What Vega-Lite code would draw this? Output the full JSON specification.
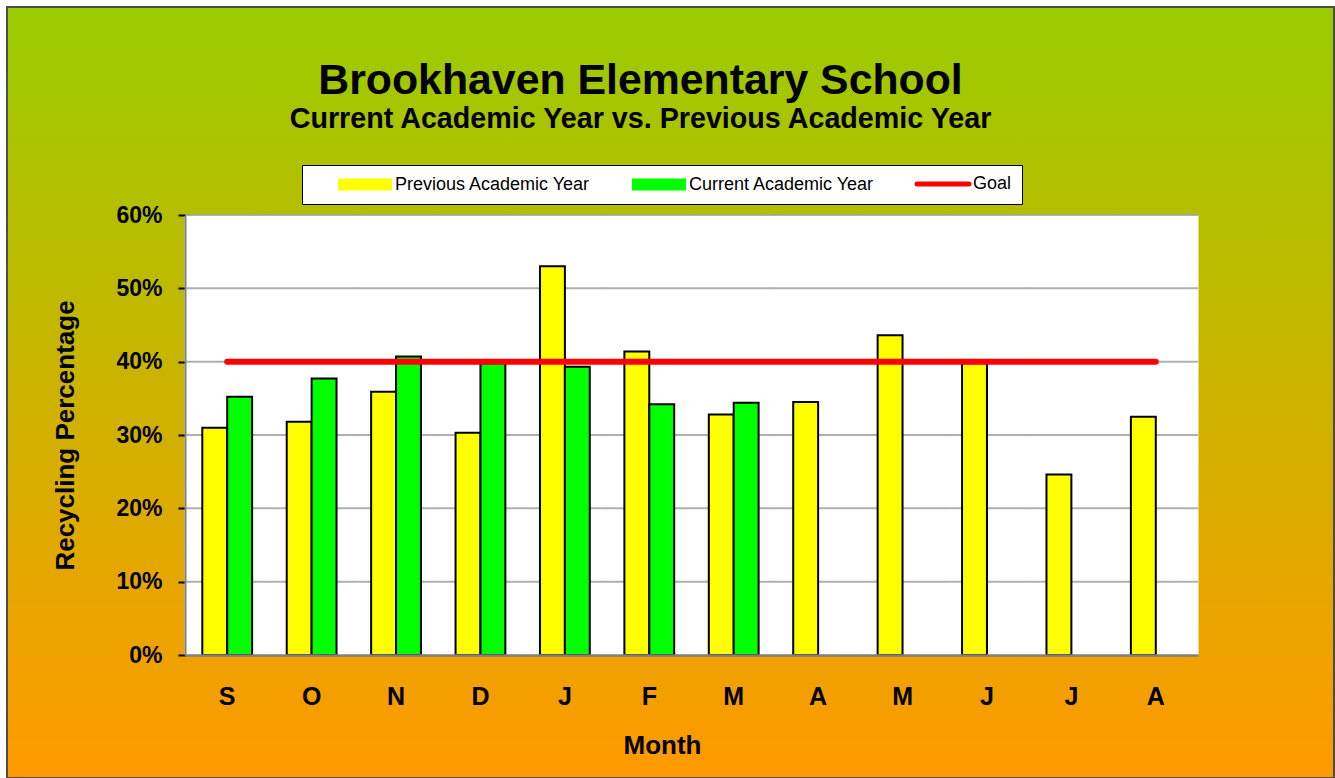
{
  "$schema": "https://vega.github.io/schema/vega-lite/v6.json",
  "width": 1327,
  "height": 771,
  "autosize": "none",
  "padding": {"left": 7, "top": 7, "right": 1, "bottom": 0},
  "background": "white",
  "config": {
    "font": "Liberation Sans",
    "view": {
      "fill": {"gradient": "linear", "x1": 0, "y1": 0, "x2": 0, "y2": 1,
        "stops": [{"offset": 0, "color": "#99CC00"}, {"offset": 1, "color": "#FF9900"}]},
      "stroke": "#4d4d4d",
      "strokeWidth": 2
    },
    "axis": {"labelFont": "Liberation Sans", "titleFont": "Liberation Sans", "labelColor": "black", "titleColor": "black"},
    "legend": {
      "orient": "none",
      "legendX": 295,
      "legendY": 158,
      "direction": "horizontal",
      "fillColor": "white",
      "strokeColor": "black",
      "padding": 10,
      "symbolSize": 400,
      "symbolOffset": 28,
      "labelOffset": 37,
      "columnPadding": 15,
      "labelLimit": 400,
      "labelFont": "Liberation Sans",
      "labelFontSize": 18,
      "labelColor": "black"
    }
  },
  "title": {
    "text": "Brookhaven Elementary School",
    "subtitle": "Current Academic Year vs. Previous Academic Year",
    "anchor": "middle",
    "frame": "group",
    "orient": "top",
    "offset": -127,
    "dx": -30,
    "font": "Liberation Sans",
    "fontSize": 42.8,
    "fontWeight": "bold",
    "color": "black",
    "subtitleFont": "Liberation Sans",
    "subtitleFontSize": 28.7,
    "subtitleFontWeight": "bold",
    "subtitleColor": "black",
    "subtitlePadding": 3
  },
  "data": {
    "values": [
      {"month": "Sep", "series": "Previous Academic Year", "value": 0.310},
      {"month": "Oct", "series": "Previous Academic Year", "value": 0.318},
      {"month": "Nov", "series": "Previous Academic Year", "value": 0.359},
      {"month": "Dec", "series": "Previous Academic Year", "value": 0.303},
      {"month": "Jan", "series": "Previous Academic Year", "value": 0.530},
      {"month": "Feb", "series": "Previous Academic Year", "value": 0.414},
      {"month": "Mar", "series": "Previous Academic Year", "value": 0.328},
      {"month": "Apr", "series": "Previous Academic Year", "value": 0.345},
      {"month": "May", "series": "Previous Academic Year", "value": 0.436},
      {"month": "Jun", "series": "Previous Academic Year", "value": 0.398},
      {"month": "Jul", "series": "Previous Academic Year", "value": 0.246},
      {"month": "Aug", "series": "Previous Academic Year", "value": 0.325},
      {"month": "Sep", "series": "Current Academic Year", "value": 0.352},
      {"month": "Oct", "series": "Current Academic Year", "value": 0.377},
      {"month": "Nov", "series": "Current Academic Year", "value": 0.407},
      {"month": "Dec", "series": "Current Academic Year", "value": 0.398},
      {"month": "Jan", "series": "Current Academic Year", "value": 0.393},
      {"month": "Feb", "series": "Current Academic Year", "value": 0.342},
      {"month": "Mar", "series": "Current Academic Year", "value": 0.344},
      {"month": "Sep", "series": "Goal", "value": 0.4},
      {"month": "Oct", "series": "Goal", "value": 0.4},
      {"month": "Nov", "series": "Goal", "value": 0.4},
      {"month": "Dec", "series": "Goal", "value": 0.4},
      {"month": "Jan", "series": "Goal", "value": 0.4},
      {"month": "Feb", "series": "Goal", "value": 0.4},
      {"month": "Mar", "series": "Goal", "value": 0.4},
      {"month": "Apr", "series": "Goal", "value": 0.4},
      {"month": "May", "series": "Goal", "value": 0.4},
      {"month": "Jun", "series": "Goal", "value": 0.4},
      {"month": "Jul", "series": "Goal", "value": 0.4},
      {"month": "Aug", "series": "Goal", "value": 0.4}
    ]
  },
  "encoding": {
    "x": {
      "field": "month",
      "type": "nominal",
      "scale": {
        "domain": ["Sep", "Oct", "Nov", "Dec", "Jan", "Feb", "Mar", "Apr", "May", "Jun", "Jul", "Aug"],
        "range": [178, 1191],
        "paddingInner": 0.41,
        "paddingOuter": 0.205
      },
      "axis": {
        "orient": "bottom",
        "offset": -123,
        "title": "Month",
        "titleX": 655,
        "titleY": 98,
        "titleBaseline": "alphabetic",
        "titleFontSize": 26,
        "titleFontWeight": "bold",
        "labelExpr": "substring(datum.label, 0, 1)",
        "labelAngle": 0,
        "labelFontSize": 25,
        "labelFontWeight": "bold",
        "labelPadding": 49,
        "labelBaseline": "alphabetic",
        "ticks": false,
        "tickSize": 0,
        "domainColor": "#808080",
        "domainWidth": 2.5,
        "grid": false,
        "zindex": 1
      }
    }
  },
  "layer": [
    {
      "transform": [{"filter": "datum.series === 'Previous Academic Year'"}],
      "mark": {"type": "bar", "width": {"band": 1.695}, "fill": "white", "stroke": "white", "strokeWidth": 1},
      "encoding": {
        "y": {
          "datum": 0.6,
          "type": "quantitative",
          "scale": {"domain": [0, 0.6], "range": [648, 208], "nice": false, "zero": true},
          "axis": {
            "orient": "left",
            "offset": -178,
            "values": [0, 0.1, 0.2, 0.3, 0.4, 0.5, 0.6],
            "format": ".0%",
            "grid": false,
            "domainColor": "#808080",
            "domainWidth": 2,
            "tickColor": "black",
            "tickWidth": 2,
            "tickSize": 7,
            "labelPadding": 16,
            "labelFontSize": 23,
            "labelFontWeight": "bold",
            "title": "Recycling Percentage",
            "titleFontSize": 26,
            "titleFontWeight": "bold",
            "titleAngle": 270,
            "titleX": -112,
            "titleBaseline": "alphabetic",
            "zindex": 1
          }
        },
        "y2": {"datum": 0}
      }
    },
    {
      "transform": [{"filter": "datum.series === 'Previous Academic Year'"}],
      "mark": {"type": "tick", "orient": "horizontal", "size": 84.6, "thickness": 2, "color": "#8f8f8f"},
      "encoding": {"y": {"datum": 0.1, "type": "quantitative"}}
    },
    {
      "transform": [{"filter": "datum.series === 'Previous Academic Year'"}],
      "mark": {"type": "tick", "orient": "horizontal", "size": 84.6, "thickness": 2, "color": "#8f8f8f"},
      "encoding": {"y": {"datum": 0.2, "type": "quantitative"}}
    },
    {
      "transform": [{"filter": "datum.series === 'Previous Academic Year'"}],
      "mark": {"type": "tick", "orient": "horizontal", "size": 84.6, "thickness": 2, "color": "#8f8f8f"},
      "encoding": {"y": {"datum": 0.3, "type": "quantitative"}}
    },
    {
      "transform": [{"filter": "datum.series === 'Previous Academic Year'"}],
      "mark": {"type": "tick", "orient": "horizontal", "size": 84.6, "thickness": 2, "color": "#8f8f8f"},
      "encoding": {"y": {"datum": 0.4, "type": "quantitative"}}
    },
    {
      "transform": [{"filter": "datum.series === 'Previous Academic Year'"}],
      "mark": {"type": "tick", "orient": "horizontal", "size": 84.6, "thickness": 2, "color": "#8f8f8f"},
      "encoding": {"y": {"datum": 0.5, "type": "quantitative"}}
    },
    {
      "transform": [{"filter": "datum.series === 'Previous Academic Year'"}],
      "mark": {"type": "tick", "orient": "horizontal", "size": 84.6, "thickness": 2, "color": "#8f8f8f"},
      "encoding": {"y": {"datum": 0.6, "type": "quantitative"}}
    },
    {
      "transform": [{"filter": "datum.series !== 'Goal'"}],
      "mark": {"type": "bar", "stroke": "black", "strokeWidth": 2},
      "encoding": {
        "xOffset": {"field": "series", "type": "nominal",
          "scale": {"domain": ["Previous Academic Year", "Current Academic Year"], "paddingInner": 0, "paddingOuter": 0}},
        "y": {"field": "value", "type": "quantitative"},
        "color": {
          "field": "series",
          "type": "nominal",
          "scale": {"domain": ["Previous Academic Year", "Current Academic Year", "Goal"], "range": ["#FFFF00", "#00FF00", "#FF0000"]},
          "legend": {
            "title": null,
            "labelExpr": "datum.label === 'Goal' ? 'Goal\u00a0\u00a0\u00a0' : datum.label",
            "encode": {
              "symbols": {
                "update": {
                  "shape": {"signal": "datum.value === 'Goal' ? 'M-1,0H4.2' : 'M-1,-0.5H4.2V0.5H-1Z'"},
                  "fill": {"signal": "datum.value === 'Previous Academic Year' ? '#FFFF00' : datum.value === 'Current Academic Year' ? '#00FF00' : 'transparent'"},
                  "stroke": {"signal": "datum.value === 'Goal' ? '#FF0000' : '#000000'"},
                  "strokeWidth": {"signal": "datum.value === 'Goal' ? 5 : 2"},
                  "strokeCap": {"value": "round"},
                  "opacity": {"value": 1},
                  "strokeOpacity": {"value": 1},
                  "fillOpacity": {"value": 1}
                }
              }
            }
          }
        }
      }
    },
    {
      "transform": [{"filter": "datum.series === 'Goal'"}],
      "mark": {"type": "line", "strokeWidth": 6, "strokeCap": "round"},
      "encoding": {
        "y": {"field": "value", "type": "quantitative"},
        "color": {
          "field": "series",
          "type": "nominal",
          "scale": {"domain": ["Previous Academic Year", "Current Academic Year", "Goal"], "range": ["#FFFF00", "#00FF00", "#FF0000"]},
          "legend": {
            "title": null,
            "labelExpr": "datum.label === 'Goal' ? 'Goal\u00a0\u00a0\u00a0' : datum.label",
            "encode": {
              "symbols": {
                "update": {
                  "shape": {"signal": "datum.value === 'Goal' ? 'M-1,0H4.2' : 'M-1,-0.5H4.2V0.5H-1Z'"},
                  "fill": {"signal": "datum.value === 'Previous Academic Year' ? '#FFFF00' : datum.value === 'Current Academic Year' ? '#00FF00' : 'transparent'"},
                  "stroke": {"signal": "datum.value === 'Goal' ? '#FF0000' : '#000000'"},
                  "strokeWidth": {"signal": "datum.value === 'Goal' ? 5 : 2"},
                  "strokeCap": {"value": "round"},
                  "opacity": {"value": 1},
                  "strokeOpacity": {"value": 1},
                  "fillOpacity": {"value": 1}
                }
              }
            }
          }
        }
      }
    }
  ]
}
